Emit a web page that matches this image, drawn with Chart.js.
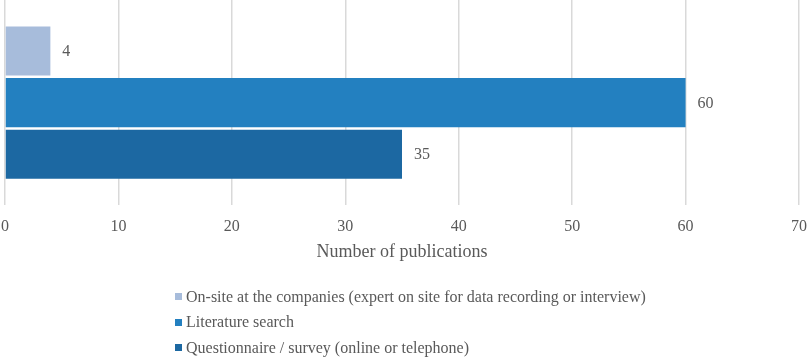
<!DOCTYPE html>
<html>
<head>
<meta charset="utf-8">
<script src="https://cdn.jsdelivr.net/npm/chart.js@4"></script>
<style>
  html, body { margin: 0; padding: 0; background: #fff; }
  #wrap { position: relative; width: 809px; height: 361px; }
  #legend { position: absolute; left: 175px; top: 284px; font-family: "Liberation Serif", serif; font-size: 16px; color: #595959; }
  #legend .item { display: flex; align-items: center; height: 25.5px; }
  #legend .box { width: 7px; height: 7px; margin-right: 4px; }
</style>
</head>
<body>
<div id="wrap">
  <canvas id="c" width="809" height="361"></canvas>
  <div id="legend"></div>
</div>
<script>
const categories = [""];
const seriesLabels = [
  "On-site at the companies (expert on site for data recording or interview)",
  "Literature search",
  "Questionnaire / survey (online or telephone)"
];
const seriesValues = [[4], [60], [35]];
const seriesColors = ["#A7BCDB", "#2380C0", "#1C68A2"];
const xTicks = [0, 10, 20, 30, 40, 50, 60, 70];

const textColor = "#595959";
const fontFamily = "'Liberation Serif', 'Times New Roman', serif";

const labelPlugin = {
  id: "barLabels",
  afterDatasetsDraw(chart) {
    const ctx = chart.ctx;
    ctx.save();
    ctx.fillStyle = textColor;
    ctx.font = "16px " + fontFamily;
    ctx.textAlign = "left";
    ctx.textBaseline = "middle";
    chart.data.datasets.forEach((ds, i) => {
      const meta = chart.getDatasetMeta(i);
      meta.data.forEach((bar, j) => {
        ctx.fillText(String(ds.data[j]), bar.x + 12, bar.y + 1);
      });
    });
    ctx.restore();
  }
};

const chart = new Chart(document.getElementById("c"), {
  type: "bar",
  data: {
    labels: categories,
    datasets: seriesLabels.map((lab, i) => ({
      label: lab,
      data: seriesValues[i],
      backgroundColor: seriesColors[i],
      borderWidth: 0,
      categoryPercentage: 0.755,
      barPercentage: 0.95
    }))
  },
  options: {
    indexAxis: "y",
    responsive: false,
    animation: false,
    layout: { padding: { left: 5, right: 10, top: 0, bottom: 98 } },
    plugins: {
      legend: { display: false },
      tooltip: { enabled: false }
    },
    scales: {
      x: {
        min: 0, max: 70,
        afterBuildTicks(axis) { axis.ticks = xTicks.map(v => ({ value: v })); },
        grid: { color: "#d9d9d9", lineWidth: 1.5, drawTicks: true, tickLength: 12, tickColor: "rgba(0,0,0,0)" },
        border: { display: false },
        ticks: { color: textColor, font: { family: fontFamily, size: 16 }, padding: 0 },
        title: { display: true, text: "Number of publications", color: textColor, font: { family: fontFamily, size: 18 }, padding: { top: 5, bottom: 0 } }
      },
      y: { display: false }
    }
  },
  plugins: [labelPlugin]
});

const legend = document.getElementById("legend");
seriesLabels.forEach((lab, i) => {
  const item = document.createElement("div");
  item.className = "item";
  const box = document.createElement("span");
  box.className = "box";
  box.style.background = seriesColors[i];
  const t = document.createElement("span");
  t.textContent = lab;
  item.appendChild(box);
  item.appendChild(t);
  legend.appendChild(item);
});
</script>
</body>
</html>
